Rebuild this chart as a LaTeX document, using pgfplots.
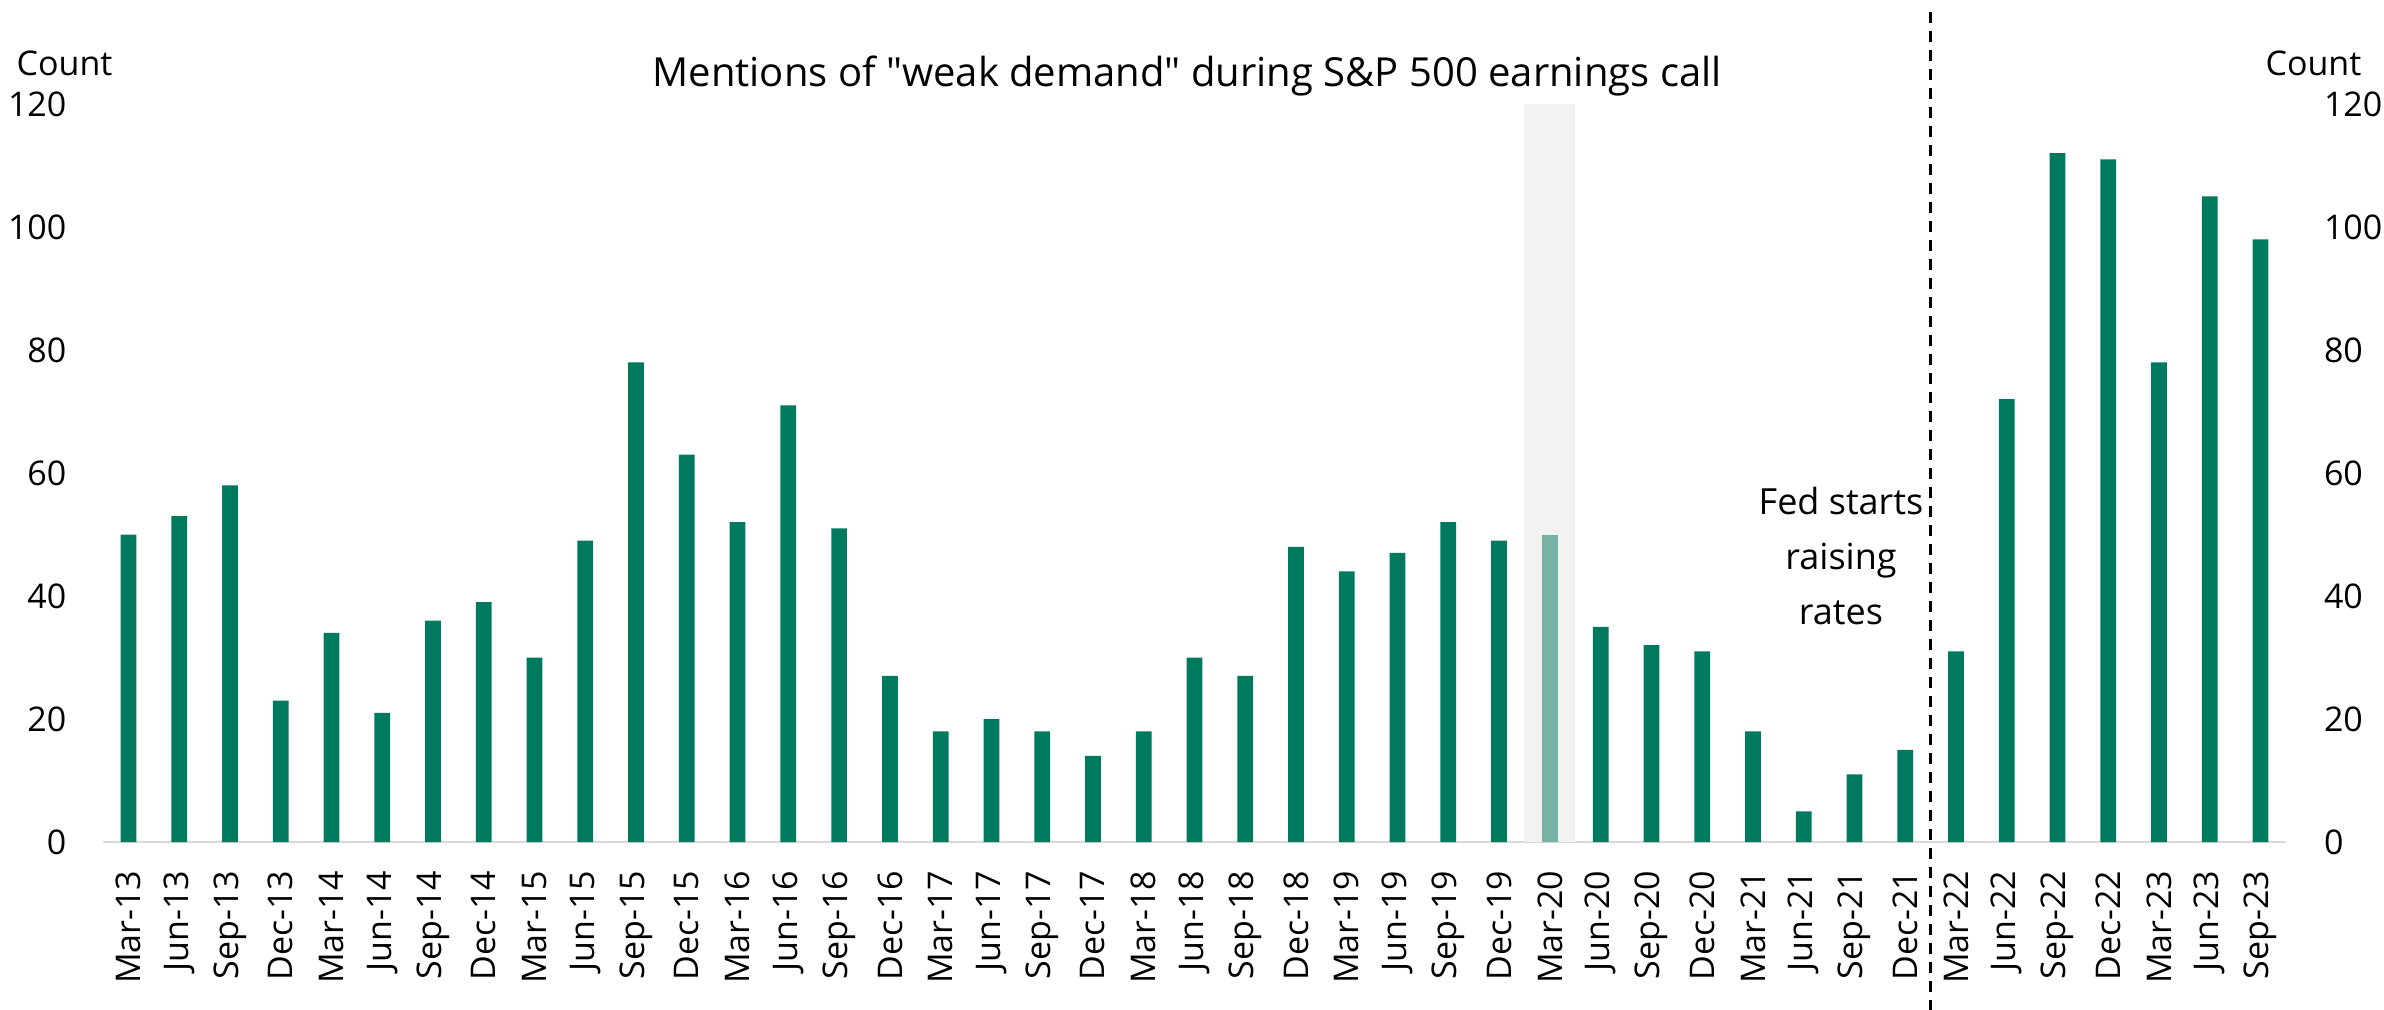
\documentclass[border=0pt]{standalone}
\usepackage{fontspec}
\setmainfont{Open Sans}
\newfontfamily\plainfont{Open Sans}
\usepackage{pgfplots}
\pgfplotsset{compat=1.18}
\definecolor{bargreen}{HTML}{007A5E}
\definecolor{barlight}{HTML}{77B3A5}
\definecolor{shade}{HTML}{F2F2F2}
\definecolor{axisgray}{HTML}{D9D9D9}
\begin{document}
\begin{tikzpicture}
\useasboundingbox (-30.9pt,-50.1pt) rectangle (684.3pt,252.6pt);
\begin{axis}[
  at={(0pt,0pt)}, anchor=south west,
  scale only axis, width=654.9pt, height=221.4pt,
  xmin=-0.5, xmax=42.5, ymin=0, ymax=120,
  clip=false,
  axis x line*=bottom, axis y line*=left,
  x axis line style={draw=axisgray, line width=0.8pt},
  y axis line style={draw=none},
  major tick length=0pt,
  ytick={0,20,...,120},
  xtick={0,...,42},
  xticklabels={Mar-13,Jun-13,Sep-13,Dec-13,Mar-14,Jun-14,Sep-14,Dec-14,Mar-15,Jun-15,Sep-15,Dec-15,Mar-16,Jun-16,Sep-16,Dec-16,Mar-17,Jun-17,Sep-17,Dec-17,Mar-18,Jun-18,Sep-18,Dec-18,Mar-19,Jun-19,Sep-19,Dec-19,Mar-20,Jun-20,Sep-20,Dec-20,Mar-21,Jun-21,Sep-21,Dec-21,Mar-22,Jun-22,Sep-22,Dec-22,Mar-23,Jun-23,Sep-23},
  /pgf/number format/assume math mode=true,
  tick label style={font=\fontsize{10.2}{12}\selectfont},
  xticklabel style={rotate=90, anchor=east, inner sep=0pt},
  xticklabel shift=8.4pt,
  yticklabel style={anchor=east, inner sep=0pt},
  yticklabel shift=10.8pt,
  ybar,
]
\addplot[fill=shade, draw=none, bar width=1, bar shift=0pt] coordinates {(28,120)};
\addplot[fill=bargreen, draw=none, bar width=0.31, bar shift=0pt] coordinates {
(0,50) (1,53) (2,58) (3,23) (4,34) (5,21) (6,36) (7,39) (8,30) (9,49)
(10,78) (11,63) (12,52) (13,71) (14,51) (15,27) (16,18) (17,20) (18,18) (19,14)
(20,18) (21,30) (22,27) (23,48) (24,44) (25,47) (26,52) (27,49)
(29,35) (30,32) (31,31) (32,18) (33,5) (34,11) (35,15)
(36,31) (37,72) (38,112) (39,111) (40,78) (41,105) (42,98)};
\addplot[fill=barlight, draw=none, bar width=0.31, bar shift=0pt] coordinates {(28,50)};
\draw[black, line width=0.9pt, dash pattern=on 3.3pt off 2.4pt] (axis cs:35.5,135) -- (axis cs:35.5,-30);
\end{axis}
\begin{axis}[
  at={(0pt,0pt)}, anchor=south west,
  scale only axis, width=654.9pt, height=221.4pt,
  xmin=-0.5, xmax=42.5, ymin=0, ymax=120,
  axis y line*=right, axis x line=none,
  y axis line style={draw=none},
  major tick length=0pt,
  ytick={0,20,...,120},
  /pgf/number format/assume math mode=true,
  tick label style={font=\fontsize{10.2}{12}\selectfont},
  yticklabel style={anchor=west, inner sep=0pt},
  yticklabel shift=11.2pt,
]
\addplot[draw=none] coordinates {(0,0)};
\end{axis}
\node[anchor=base, inner sep=0pt, font=\plainfont\fontsize{12}{15}\selectfont] at (325.2pt,226.5pt) {Mentions of "weak demand" during S\&P 500 earnings call};
\node[anchor=base west, inner sep=0pt, font=\fontsize{10.2}{12}\selectfont] at (-26.1pt,229.8pt) {Count};
\node[anchor=base east, inner sep=0pt, font=\fontsize{10.2}{12}\selectfont] at (677.7pt,229.8pt) {Count};
\node[anchor=base, inner sep=0pt, font=\fontsize{10.8}{13}\selectfont] at (521.4pt,98.1pt) {Fed starts};
\node[anchor=base, inner sep=0pt, font=\fontsize{10.8}{13}\selectfont] at (521.4pt,81.6pt) {raising};
\node[anchor=base, inner sep=0pt, font=\fontsize{10.8}{13}\selectfont] at (521.4pt,65.1pt) {rates};
\end{tikzpicture}
\end{document}
